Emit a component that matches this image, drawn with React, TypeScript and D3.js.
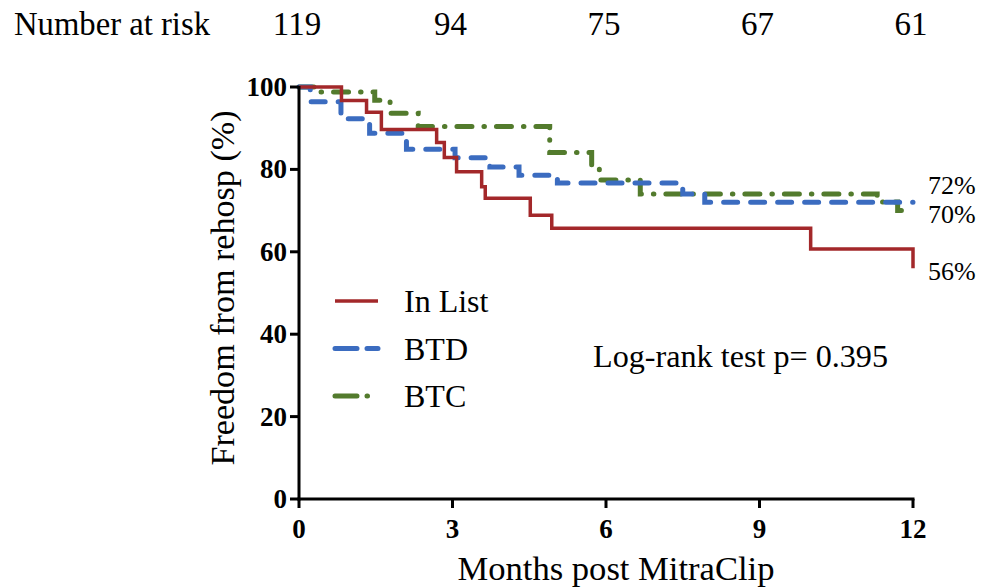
import React from "react";
import * as d3 from "d3";

// Kaplan–Meier step estimates (months, % free from rehospitalisation)
const inListTimes = [0, 0.83, 1.32, 1.61, 2.69, 2.84, 3.08, 3.57, 3.64, 4.52, 4.94, 10, 12];
const inListValues = [100, 96.7, 93.9, 89.7, 86.5, 82.9, 79.4, 75.8, 73.0, 68.9, 65.7, 60.7, 56];

const btdTimes = [0, 0.22, 0.82, 1.38, 2.1, 3.05, 3.73, 4.3, 5.05, 7.5, 7.93, 12];
const btdValues = [100, 96.4, 92.3, 88.8, 84.9, 82.8, 80.6, 78.6, 76.7, 74.0, 72, 72];

const btcTimes = [0, 0.35, 1.48, 1.78, 2.33, 4.9, 5.72, 5.87, 6.67, 11.3, 11.7, 12];
const btcValues = [100, 98.8, 96.8, 93.6, 90.4, 84.1, 80.5, 77.4, 74.0, 72.1, 70, 70];

const xTicks = [0, 3, 6, 9, 12];
const yTicks = [0, 20, 40, 60, 80, 100];
const riskMonths = [0, 3, 6, 9, 12];
const riskCounts = [119, 94, 75, 67, 61];

const seriesNames = ["In List", "BTD", "BTC"];
const endLabels = ["56%", "72%", "70%"];

const W = 982;
const H = 588;
const serif = "'Liberation Serif', 'Times New Roman', serif";

const x = d3.scaleLinear().domain([0, 12]).range([299, 913]);
const y = d3.scaleLinear().domain([0, 100]).range([499, 87]);

const stepLine = d3
  .line<[number, number]>()
  .x((d) => x(d[0]))
  .y((d) => y(d[1]))
  .curve(d3.curveStepAfter);

const zip = (t: number[], v: number[]): [number, number][] => t.map((ti, i) => [ti, v[i]]);

const styles = [
  { color: "#a3282a", width: 3.5, dash: undefined as string | undefined, cap: "butt" },
  { color: "#3b6cc0", width: 5, dash: "14 13", cap: "round" },
  { color: "#537b2d", width: 5, dash: "15 12 0.5 12", cap: "round" },
];

export default function App() {
  const series = [
    zip(inListTimes, inListValues),
    zip(btdTimes, btdValues),
    zip(btcTimes, btcValues),
  ];
  const drawOrder = [2, 1, 0];
  const endYs = [280, 194, 223];

  return (
    <svg
      width={W}
      height={H}
      style={{ position: "absolute", left: 0, top: 0, background: "#fff" }}
      fontFamily={serif}
    >
      {/* number at risk row */}
      <text x={14} y={35} fontSize={33} textLength={196} lengthAdjust="spacingAndGlyphs">
        Number at risk
      </text>
      {riskMonths.map((m, i) => (
        <text key={m} x={x(m) - 2} y={35} fontSize={33} textAnchor="middle">
          {riskCounts[i]}
        </text>
      ))}

      {/* curves */}
      {drawOrder.map((i) => (
        <path
          key={i}
          d={stepLine(series[i]) || ""}
          fill="none"
          stroke={styles[i].color}
          strokeWidth={styles[i].width}
          strokeDasharray={styles[i].dash}
          strokeLinecap={styles[i].cap as any}
        />
      ))}

      {/* axes */}
      <line x1={x(0)} x2={x(0)} y1={y(100) - 1} y2={y(0) + 1.5} stroke="#000" strokeWidth={3} />
      <line x1={x(0) - 1.5} x2={x(12) + 1.5} y1={y(0)} y2={y(0)} stroke="#000" strokeWidth={3} />
      {yTicks.map((t) => (
        <g key={t}>
          <line x1={x(0) - 9} x2={x(0)} y1={y(t)} y2={y(t)} stroke="#000" strokeWidth={3} />
          <text
            x={x(0) - 12}
            y={y(t) + 9}
            fontSize={27}
            fontWeight="bold"
            textAnchor="end"
          >
            {t}
          </text>
        </g>
      ))}
      {xTicks.map((t) => (
        <g key={t}>
          <line x1={x(t)} x2={x(t)} y1={y(0)} y2={y(0) + 9} stroke="#000" strokeWidth={3} />
          <text x={x(t)} y={538} fontSize={27} fontWeight="bold" textAnchor="middle">
            {t}
          </text>
        </g>
      ))}

      {/* axis titles */}
      <text
        transform={`translate(234,${288}) rotate(-90)`}
        fontSize={33}
        textAnchor="middle"
        textLength={355}
        lengthAdjust="spacingAndGlyphs"
      >
        Freedom from rehosp (%)
      </text>
      <text x={616} y={580} fontSize={33} textAnchor="middle" textLength={317} lengthAdjust="spacingAndGlyphs">
        Months post MitraClip
      </text>

      {/* legend */}
      {seriesNames.map((name, i) => {
        const ly = 301 + i * 47.5;
        return (
          <g key={name}>
            <line
              x1={335}
              x2={378}
              y1={ly}
              y2={ly}
              stroke={styles[i].color}
              strokeWidth={styles[i].width}
              strokeDasharray={i === 2 ? "22 10 0.5 12" : i === 1 ? "22 10" : undefined}
              strokeLinecap={styles[i].cap as any}
            />
            <text x={404} y={ly + 11} fontSize={32}>
              {name}
            </text>
          </g>
        );
      })}

      <text x={593} y={367} fontSize={32} textLength={295} lengthAdjust="spacingAndGlyphs">
        Log-rank test p= 0.395
      </text>

      {/* end-of-follow-up percentages */}
      {endLabels.map((lab, i) => (
        <text key={lab} x={928} y={endYs[i]} fontSize={26}>
          {lab}
        </text>
      ))}
    </svg>
  );
}
